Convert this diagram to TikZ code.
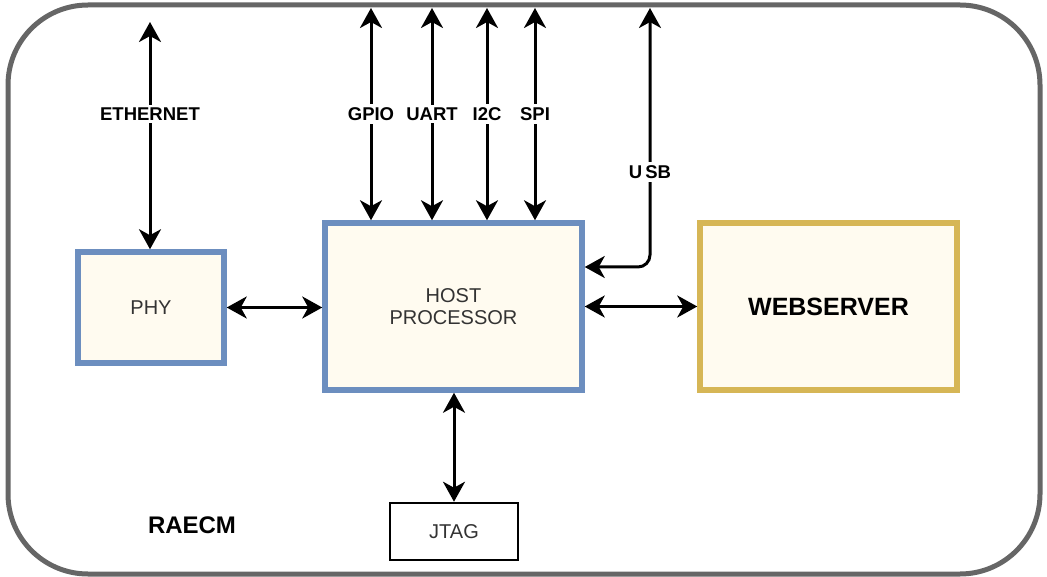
\documentclass[tikz,border=0pt]{standalone}
\usepackage{fontspec}
\setmainfont{Liberation Sans}
\usetikzlibrary{arrows.meta}
\definecolor{boxblue}{HTML}{6C8EBF}
\definecolor{boxgold}{HTML}{D6B656}
\definecolor{boxfill}{HTML}{FFFBF0}
\definecolor{frame}{HTML}{666666}
\definecolor{txtgray}{HTML}{333333}
\tikzset{
  fs/.style={font=\fontsize{#1}{#1}\selectfont},
  bluebox/.style={draw=boxblue, line width=5.5pt, fill=boxfill, inner sep=0pt, text=txtgray, fs=20, align=center},
  goldbox/.style={draw=boxgold, line width=5.5pt, fill=boxfill, inner sep=0pt, font=\fontsize{25}{25}\selectfont\bfseries},
  plainbox/.style={draw=black, line width=2.5pt, fill=white, inner sep=0pt, text=txtgray, fs=20},
  biarrow/.style={line width=3pt, {Stealth[length=20pt,width=22pt,inset=6pt]}-{Stealth[length=20pt,width=22pt,inset=6pt]}},
  buslabel/.style={fill=white, inner sep=3pt, font=\fontsize{18.5}{18.5}\selectfont\bfseries},
}
\begin{document}
\begin{tikzpicture}[x=1pt,y=-1pt]
  \useasboundingbox (0,0) rectangle (1047,577);
  % module outline
  \draw[frame, line width=5pt, rounded corners=80pt] (8,5) rectangle (1040,574);

  % blocks
  \node[bluebox, minimum width=146pt, minimum height=111pt] (phy) at (151,307.5) {PHY};
  \node[bluebox, minimum width=257pt, minimum height=167pt] (host) at (453.5,306.5) {HOST\\[2pt]PROCESSOR};
  \node[goldbox, minimum width=257pt, minimum height=167pt] (web) at (828.5,306.5) {WEBSERVER};
  \node[plainbox, minimum width=128pt, minimum height=57pt] (jtag) at (454,531.5) {JTAG};
  \node[font=\fontsize{24}{24}\selectfont\bfseries] (raecm) at (192,525) {RAECM};

  % external connection points
  \coordinate (ethT) at (150,22);
  \coordinate (gpioT) at (371,8);
  \coordinate (uartT) at (432,8);
  \coordinate (iicT) at (487,8);
  \coordinate (spiT) at (535,8);
  \coordinate (usbT) at (650,8);
  \coordinate (usbC) at (650,267);

  % interface lines
  \draw[biarrow] (ethT) -- (ethT |- phy.north) coordinate[pos=0.4] (ethL);
  \draw[biarrow] (gpioT) -- (gpioT |- host.north);
  \draw[biarrow] (uartT) -- (uartT |- host.north);
  \draw[biarrow] (iicT) -- (iicT |- host.north);
  \draw[biarrow] (spiT) -- (spiT |- host.north);
  \draw[biarrow, rounded corners=12pt] (usbT) -- (usbC) -- (usbC -| host.east);
  \draw[biarrow] (phy.east) -- (host.west |- phy.east);
  \draw[biarrow] (host.east) -- (web.west);
  \draw[biarrow] (host.south -| jtag.north) -- (jtag.north);

  % interface labels
  \node[buslabel] (ethlbl) at (150,114) {ETHERNET};
  \node[buslabel] (gpiolbl) at (371,114) {GPIO};
  \node[buslabel] (uartlbl) at (432,114) {UART};
  \node[buslabel] (iiclbl) at (487,114) {I2C};
  \node[buslabel] (spilbl) at (535,114) {SPI};
  \node[buslabel] (usblbl) at (650,172) {U\,SB};
\end{tikzpicture}
\end{document}
